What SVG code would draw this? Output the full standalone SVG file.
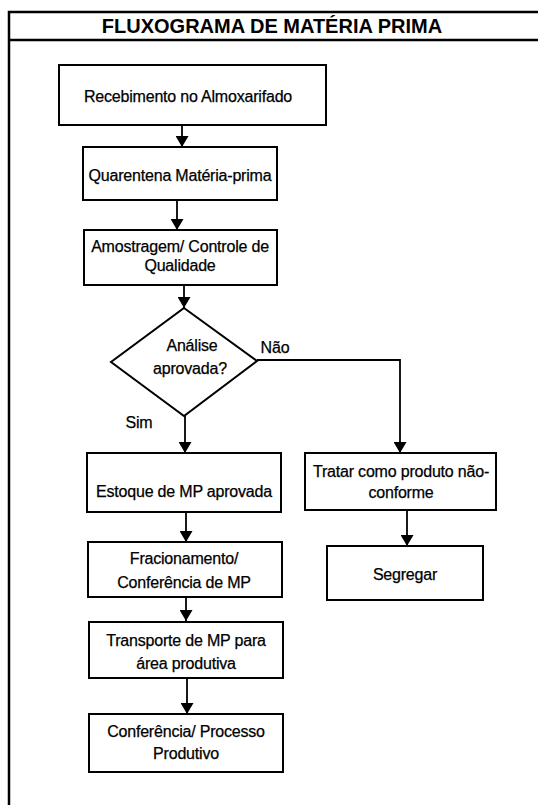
<svg xmlns="http://www.w3.org/2000/svg" width="538" height="805" viewBox="0 0 538 805">
  <style>
    .frame { fill: none; stroke: #000; stroke-width: 2.5; }
    .box { fill: #fff; stroke: #000; stroke-width: 2; }
    .lbl { font-family: "Liberation Sans", Arial, sans-serif; font-size: 16px; letter-spacing: -0.2px; fill: #000; stroke: #000; stroke-width: 0.25; text-anchor: middle; }
    .title { font-family: "Liberation Sans", Arial, sans-serif; font-size: 20px; font-weight: bold; fill: #000; text-anchor: middle; }
    .edge { fill: none; stroke: #000; stroke-width: 1.8; }
  </style>
  <defs>
    <marker id="arrow" viewBox="0 0 11 13" refX="11" refY="6.5" markerWidth="11" markerHeight="13" markerUnits="userSpaceOnUse" orient="auto">
      <path d="M0,0 L11,6.5 L0,13 Z" fill="#000"/>
    </marker>
  </defs>

  <rect width="538" height="805" fill="#fff"/>

  <!-- page frame and title band -->
  <g id="frame">
    <path class="frame" d="M9,805 V12 H538 M9,40 H538"/>
    <text class="title" x="272" y="33">FLUXOGRAMA DE MATÉRIA PRIMA</text>
  </g>

  <!-- connectors -->
  <g id="connectors">
    <path class="edge" d="M182,125 V147" marker-end="url(#arrow)"/>
    <path class="edge" d="M177,200 V230" marker-end="url(#arrow)"/>
    <path class="edge" d="M184,285 V308" marker-end="url(#arrow)"/>
    <path class="edge" d="M185,416 V453" marker-end="url(#arrow)"/>
    <path class="edge" d="M257,360 H400 V453" marker-end="url(#arrow)"/>
    <path class="edge" d="M186,512 V542" marker-end="url(#arrow)"/>
    <path class="edge" d="M407,510 V546" marker-end="url(#arrow)"/>
    <path class="edge" d="M186,597 V621" marker-end="url(#arrow)"/>
    <path class="edge" d="M187,678 V714" marker-end="url(#arrow)"/>
    <text class="lbl" x="275" y="353">Não</text>
    <text class="lbl" x="139" y="428">Sim</text>
  </g>

  <g id="recebimento">
    <rect class="box" x="59" y="65" width="267" height="60"/>
    <text class="lbl" x="188" y="102">Recebimento no Almoxarifado</text>
  </g>

  <g id="quarentena">
    <rect class="box" x="83" y="147" width="194" height="53"/>
    <text class="lbl" x="180" y="181">Quarentena Matéria-prima</text>
  </g>

  <g id="amostragem">
    <rect class="box" x="84" y="230" width="193" height="55"/>
    <text class="lbl" x="180" y="252">Amostragem/ Controle de</text>
    <text class="lbl" x="180" y="271">Qualidade</text>
  </g>

  <g id="analise">
    <path class="box" d="M184,308 L257,361 L184,416 L111,362 Z"/>
    <text class="lbl" x="192" y="351">Análise</text>
    <text class="lbl" x="190" y="374">aprovada?</text>
  </g>

  <g id="estoque">
    <rect class="box" x="87" y="453" width="194" height="59"/>
    <text class="lbl" x="184" y="497">Estoque de MP aprovada</text>
  </g>

  <g id="tratar">
    <rect class="box" x="305" y="453" width="191" height="57"/>
    <text class="lbl" x="401" y="477">Tratar como produto não-</text>
    <text class="lbl" x="401" y="498">conforme</text>
  </g>

  <g id="segregar">
    <rect class="box" x="327" y="546" width="156" height="54"/>
    <text class="lbl" x="405" y="580">Segregar</text>
  </g>

  <g id="fracionamento">
    <rect class="box" x="88" y="542" width="194" height="55"/>
    <text class="lbl" x="184" y="564">Fracionamento/</text>
    <text class="lbl" x="184" y="588">Conferência de MP</text>
  </g>

  <g id="transporte">
    <rect class="box" x="89" y="622" width="194" height="56"/>
    <text class="lbl" x="186" y="646">Transporte de MP para</text>
    <text class="lbl" x="186" y="669">área produtiva</text>
  </g>

  <g id="conferencia">
    <rect class="box" x="89" y="714" width="194" height="58"/>
    <text class="lbl" x="186" y="737">Conferência/ Processo</text>
    <text class="lbl" x="186" y="759">Produtivo</text>
  </g>
</svg>
